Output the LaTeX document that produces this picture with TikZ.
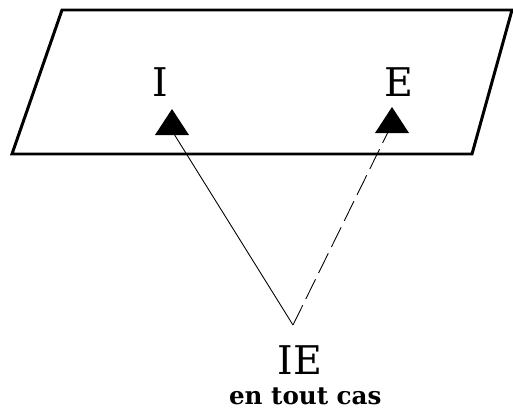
\documentclass[tikz,border=0pt]{standalone}
\usepackage{fontspec}
\newfontfamily\labfont{DejaVu Serif}
\usepackage{tikz}
\usetikzlibrary{positioning,calc}

\begin{document}
\begin{tikzpicture}[x=0.02cm,y=-0.02cm,
    plane/.style={line width=1.7pt,line join=miter},
    letter/.style={font=\labfont\fontsize{22.5}{22.5}\selectfont,inner sep=0pt},
    link/.style={line width=0.5pt},
    dashlink/.style={line width=0.5pt,dash pattern=on 12.5pt off 4pt}]
    \useasboundingbox (0,0) rectangle (513,412);

    % Plane
    \draw[plane] (62,10) -- (512,10) -- (472,154) -- (12,154) -- cycle;

    % Points on the plane
    \node[letter] (i) at (160,82) {I};
    \node[letter] (e) at (399,82) {E};
    \coordinate (ti) at (172,134);
    \coordinate (te) at (392,132);
    \fill (ti) ++(-17,1) -- ++(17,-26) -- ++(17,26) -- cycle;
    \fill (te) ++(-17,1) -- ++(17,-26) -- ++(17,26) -- cycle;

    % Common point
    \coordinate (ie) at (293,325);
    \node[letter] (lie) at (300,360) {IE};
    \node[font=\labfont\bfseries\fontsize{14}{14}\selectfont,below=4pt of lie,xshift=3pt] (cas) {en tout cas};

    \draw[link] (ie) -- ($(ti)+(2,0)$);
    \draw[dashlink] (ie) -- ($(te)+(-4,0)$);
\end{tikzpicture}
\end{document}
